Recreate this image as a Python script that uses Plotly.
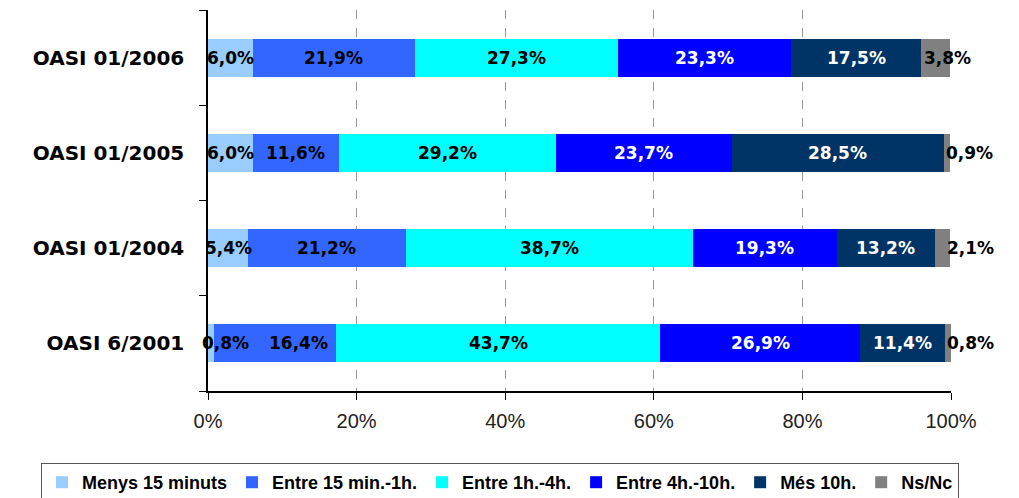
import plotly.graph_objects as go

waves = ["OASI 6/2001", "OASI 01/2004", "OASI 01/2005", "OASI 01/2006"]

series_names = ["Menys 15 minuts", "Entre 15 min.-1h.", "Entre 1h.-4h.",
                "Entre 4h.-10h.", "Més 10h.", "Ns/Nc"]

menys_15 = [0.8, 5.4, 6.0, 6.0]
entre_15_1h = [16.4, 21.2, 11.6, 21.9]
entre_1_4h = [43.7, 38.7, 29.2, 27.3]
entre_4_10h = [26.9, 19.3, 23.7, 23.3]
mes_10h = [11.4, 13.2, 28.5, 17.5]
ns_nc = [0.8, 2.1, 0.9, 3.8]

x_ticks = [0, 20, 40, 60, 80, 100]

colors = ["#99CCFF", "#3366FF", "#00FFFF", "#0000FF", "#003366", "#808080"]
text_colors = ["black", "black", "black", "white", "white", "black"]

# label nudges (px) for the thin segments, like excel moved them
label_shift = {(0, 0): 15, (1, 0): 24, (5, 0): 22, (5, 1): 28, (5, 2): 23, (5, 3): 12}

all_series = [menys_15, entre_15_1h, entre_1_4h, entre_4_10h, mes_10h, ns_nc]

fig = go.Figure()
for name, vals, col in zip(series_names, all_series, colors):
    fig.add_trace(go.Bar(
        y=waves,
        x=vals,
        name=name,
        orientation="h",
        marker=dict(color=col, line=dict(width=0)),
        hoverinfo="skip",
    ))

# value labels centred on each segment
base = [0.0] * len(waves)
for si, (vals, tcol) in enumerate(zip(all_series, text_colors)):
    for ri, v in enumerate(vals):
        fig.add_annotation(
            x=base[ri] + v / 2, y=waves[ri],
            xref="x", yref="y",
            text=f"{v:.1f}%".replace(".", ","),
            showarrow=False,
            xshift=label_shift.get((si, ri), 0),
            font=dict(family="DejaVu Sans", size=17, color=tcol, weight="bold"),
        )
        base[ri] += v

# page body has an 8px margin, so the figure is a bit smaller than the window
fig.update_layout(
    width=1011,
    height=490,
    barmode="stack",
    bargap=0.6,
    plot_bgcolor="white",
    paper_bgcolor="white",
    margin=dict(l=200, r=68, t=2, b=107, autoexpand=False),
    showlegend=True,
    legend=dict(
        orientation="h",
        x=-0.2248, y=-0.189, xanchor="left", yanchor="top",
        bordercolor="#555555", borderwidth=1,
        font=dict(family="Liberation Sans", size=18, color="black", weight="bold"),
        traceorder="normal",
        itemwidth=30,
    ),
)

fig.update_xaxes(
    range=[0, 100],
    tickvals=x_ticks,
    ticktext=[f"{t}%" for t in x_ticks],
    showgrid=True,
    gridcolor="#999999",
    griddash="dash",
    gridwidth=1,
    showline=True,
    linecolor="black",
    linewidth=1.5,
    ticks="outside",
    ticklen=7,
    tickcolor="black",
    ticklabelstandoff=4,
    tickfont=dict(family="Liberation Sans", size=20, color="#222222"),
    zeroline=False,
)

fig.update_yaxes(
    range=[-0.5, 3.5],
    showgrid=False,
    showline=True,
    linecolor="black",
    linewidth=1.5,
    ticks="outside",
    tickson="boundaries",
    ticklen=7,
    tickcolor="black",
    ticklabelstandoff=18,
    tickfont=dict(family="DejaVu Sans", size=20, color="black", weight="bold"),
)

fig.write_html("out.html")
